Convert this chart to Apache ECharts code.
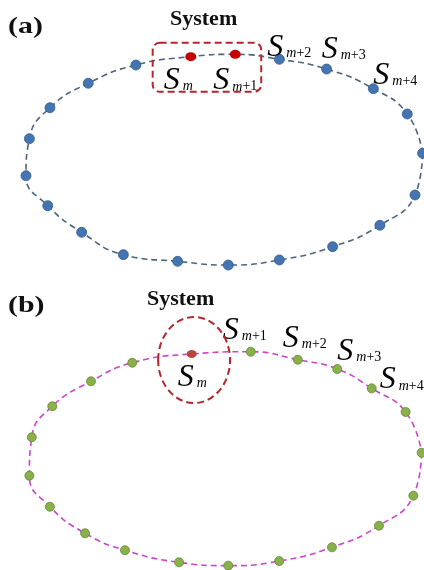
<!DOCTYPE html>
<html>
<head>
<meta charset="utf-8">
<script src="https://cdn.jsdelivr.net/npm/echarts@6/dist/echarts.min.js"></script>
<style>html,body{margin:0;padding:0;background:#fff}#c{width:424px;height:570px}</style>
</head>
<body>
<div id="c"></div>
<script>
// Panel (a): points along the orbit, normalized units (starting at S_m, clockwise)
const xA = [-0.169, 0.054, 0.275, 0.512, 0.746, 0.916, 0.993, 0.955, 0.779, 0.542, 0.275, 0.019, -0.235, -0.507, -0.716, -0.886, -0.995, -0.978, -0.875, -0.683, -0.444];
const yA = [0.975, 0.997, 0.950, 0.858, 0.673, 0.434, 0.063, -0.330, -0.616, -0.818, -0.943, -0.991, -0.956, -0.893, -0.682, -0.431, -0.148, 0.201, 0.493, 0.724, 0.896];
const redA = [0, 1];
const labelsA = ['m', 'm+1', 'm+2', 'm+3', 'm+4'];

// Panel (b)
const xB = [-0.171, 0.128, 0.366, 0.566, 0.740, 0.912, 0.993, 0.951, 0.777, 0.539, 0.272, 0.014, -0.235, -0.509, -0.711, -0.889, -0.993, -0.981, -0.877, -0.681, -0.472];
const yB = [0.963, 0.984, 0.910, 0.824, 0.645, 0.426, 0.049, -0.349, -0.627, -0.827, -0.954, -0.997, -0.966, -0.854, -0.697, -0.451, -0.164, 0.192, 0.479, 0.710, 0.882];
const redB = [0];
const labelsB = ['m', 'm+1', 'm+2', 'm+3', 'm+4'];

const titles = ['System', 'System'];
const panelTags = ['(a)', '(b)'];

// annotation regions in data units
const boxA = { x0: -0.360, x1: 0.184, y0: 0.644, y1: 1.107 };
const ringB = { cx: -0.159, cy: 0.907, rx: 0.182, ry: 0.398 };

// ---- styles ----
const offsA = [[-27, 23], [-22, 26], [-12, -12], [-5, -20], [0, -14]];
const offsB = [[-14, 23], [-28, -22], [-15, -22], [0, -18], [8, -9]];
const serif = '"Liberation Serif","DejaVu Serif",serif';

function richLabel(sub) {
  const m = sub.replace(/[+\-0-9]/g, '');
  const rest = sub.slice(m.length);
  return '{s|S}{m|' + m + '}' + (rest ? '{n|' + rest + '}' : '');
}
const rich = {
  s: { fontFamily: serif, fontStyle: 'italic', fontSize: 32, color: '#000', lineHeight: 33, verticalAlign: 'bottom' },
  m: { fontFamily: serif, fontStyle: 'italic', fontSize: 14, color: '#000', lineHeight: 14, verticalAlign: 'bottom', padding: [0, 0, 3, 3] },
  n: { fontFamily: serif, fontSize: 14, color: '#000', lineHeight: 14, verticalAlign: 'bottom', padding: [0, 0, 3, 0] }
};

function loop(xs, ys) {
  const pts = xs.map((x, i) => [x, ys[i]]);
  let k = 0;
  pts.forEach((p, i) => { if (p[0] > pts[k][0]) k = i; });
  return pts.slice(k).concat(pts.slice(0, k + 1));
}
function pointData(xs, ys, labels, offs, reds, wantRed) {
  const out = [];
  xs.forEach((x, i) => {
    const isRed = reds.indexOf(i) >= 0;
    if (isRed !== wantRed) return;
    const d = { value: [x, ys[i]] };
    if (i < labels.length) {
      d.label = { show: true, position: 'inside', align: 'left', verticalAlign: 'middle',
        offset: offs[i], formatter: richLabel(labels[i]), rich: rich };
    }
    out.push(d);
  });
  return out;
}

const chart = echarts.init(document.getElementById('c'), null, { renderer: 'canvas' });
const axisBase = { type: 'value', min: -1, max: 1, show: false };
chart.setOption({
  animation: false,
  backgroundColor: '#fff',
  grid: [
    { left: 25, top: 54, width: 399, height: 212 },
    { left: 28, top: 350, width: 395, height: 216 }
  ],
  xAxis: [Object.assign({ gridIndex: 0 }, axisBase), Object.assign({ gridIndex: 1 }, axisBase)],
  yAxis: [Object.assign({ gridIndex: 0 }, axisBase), Object.assign({ gridIndex: 1 }, axisBase)],
  series: [
    { type: 'line', xAxisIndex: 0, yAxisIndex: 0, data: loop(xA, yA), smooth: 0.5, symbol: 'none', clip: false, z: 1,
      lineStyle: { color: '#4d6480', width: 1.6, type: [6, 4] } },
    { type: 'scatter', xAxisIndex: 0, yAxisIndex: 0, data: pointData(xA, yA, labelsA, offsA, redA, false), z: 5,
      symbolSize: 10, itemStyle: { color: '#4475b0', borderColor: '#335d92', borderWidth: 0.8, opacity: 1 } },
    { type: 'scatter', xAxisIndex: 0, yAxisIndex: 0, data: pointData(xA, yA, labelsA, offsA, redA, true), z: 5,
      symbolSize: [11, 9], itemStyle: { color: '#c40000', opacity: 1 } },
    { type: 'line', xAxisIndex: 1, yAxisIndex: 1, data: loop(xB, yB), smooth: 0.5, symbol: 'none', clip: false, z: 1,
      lineStyle: { color: '#cc44cc', width: 1.6, type: [6, 4] } },
    { type: 'scatter', xAxisIndex: 1, yAxisIndex: 1, data: pointData(xB, yB, labelsB, offsB, redB, false), z: 5,
      symbolSize: 9, itemStyle: { color: '#8ab04a', borderColor: '#5f8a35', borderWidth: 0.8, opacity: 1 } },
    { type: 'scatter', xAxisIndex: 1, yAxisIndex: 1, data: pointData(xB, yB, labelsB, offsB, redB, true), z: 5,
      symbolSize: [10, 8], itemStyle: { color: '#b8463a', opacity: 1 } }
  ]
});

const p0 = chart.convertToPixel({ gridIndex: 0 }, [boxA.x0, boxA.y1]);
const p1 = chart.convertToPixel({ gridIndex: 0 }, [boxA.x1, boxA.y0]);
const c0 = chart.convertToPixel({ gridIndex: 1 }, [ringB.cx, ringB.cy]);
const c1 = chart.convertToPixel({ gridIndex: 1 }, [ringB.cx + ringB.rx, ringB.cy - ringB.ry]);
const dash = { fill: 'none', stroke: '#b5262a', lineWidth: 2, lineDash: [7, 4] };
chart.setOption({
  graphic: [
    { type: 'rect', shape: { x: p0[0], y: p0[1], width: p1[0] - p0[0], height: p1[1] - p0[1], r: 7 }, style: dash, z: 10 },
    { type: 'ellipse', shape: { cx: c0[0], cy: c0[1], rx: c1[0] - c0[0], ry: c1[1] - c0[1] }, style: dash, z: 10 },
    { type: 'text', x: 170, y: 10, scaleX: 1.1, style: { text: titles[0], font: 'bold 20px ' + serif, fill: '#111' } },
    { type: 'text', x: 147, y: 290, scaleX: 1.1, style: { text: panelTags[1] === '' ? '' : titles[1], font: 'bold 20px ' + serif, fill: '#111' } },
    { type: 'text', x: 8, y: 16, scaleX: 1.3, style: { text: panelTags[0], font: 'bold 23px ' + serif, fill: '#111' } },
    { type: 'text', x: 8, y: 295, scaleX: 1.3, style: { text: panelTags[1], font: 'bold 23px ' + serif, fill: '#111' } }
  ]
});
</script>
</body>
</html>
